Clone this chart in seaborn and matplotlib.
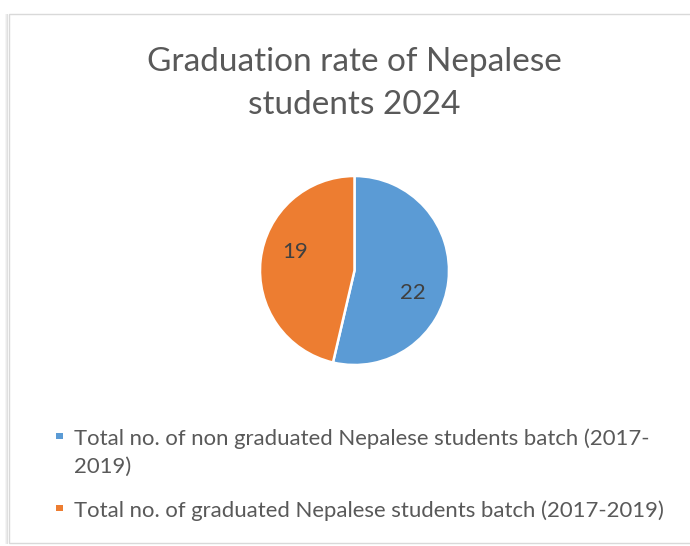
import matplotlib
matplotlib.use("Agg")
import matplotlib.pyplot as plt
import seaborn as sns
import numpy as np
from matplotlib.patches import Rectangle

title = "Graduation rate of Nepalese\nstudents 2024"
categories = ["Total no. of non graduated Nepalese students batch (2017-\n2019)",
              "Total no. of graduated Nepalese students batch (2017-2019)"]
values = [22, 19]
colors = ["#5B9BD5", "#ED7D31"]

sns.set_theme(style="white")
plt.rcParams['font.family'] = ['Lato', 'DejaVu Sans']
txt = "#595959"

W, H = 690, 546
fig = plt.figure(figsize=(W/100, H/100), dpi=100)
fig.patch.set_facecolor("white")

def fx(x): return x / W
def fy(y): return 1 - y / H

# chart border + left shadow
for i, a in enumerate([0.08, 0.16, 0.26]):
    fig.patches.append(Rectangle((fx(5 + i), fy(544)), fx(1), 530/H, transform=fig.transFigure,
                                 facecolor="#888888", alpha=a, edgecolor="none", zorder=-10))
fig.patches.append(Rectangle((fx(8.5), fy(543)), fx(700), 529/H, transform=fig.transFigure,
                             facecolor="white", edgecolor="#D9D9D9", lw=1, zorder=-9))

cx, cy, r = 354.5, 270.5, 94.5
ax = fig.add_axes([fx(cx - r), fy(cy + r), 2*r/W, 2*r/H])
ax.set_zorder(2)
wedges, texts = ax.pie(values, colors=colors, startangle=90, counterclock=False,
                       labels=[str(v) for v in values], labeldistance=0.66,
                       wedgeprops=dict(edgecolor="white", linewidth=1.8),
                       textprops=dict(color="#404040", fontsize=16,
                                      ha="center", va="center"))
# Excel-like label placement (rotated slightly from mid-angle)
label_angles = [-21, 163]
for t, ang in zip(texts, label_angles):
    a = np.deg2rad(ang)
    t.set_position((0.66 * np.cos(a), 0.66 * np.sin(a)))
    t.set_ha("center"); t.set_va("center")
ax.set_xlim(-1.0, 1.0)
ax.set_ylim(-1.0, 1.0)
ax.set_aspect("equal")
ax.axis("off")

fig.text(fx(354), fy(71), title.split("\n")[0], ha="center", va="baseline",
         fontsize=24, color=txt)
fig.text(fx(354), fy(114), title.split("\n")[1], ha="center", va="baseline",
         fontsize=24, color=txt)

leg_y = [445, 517]
for lab, col, y in zip(categories, colors, leg_y):
    fig.patches.append(Rectangle((fx(56.5), fy(y - 6)), fx(6.5), 6.5/H, transform=fig.transFigure,
                                 facecolor=col, edgecolor="none"))
    lines = lab.split("\n")
    for k, line in enumerate(lines):
        fig.text(fx(74), fy(y + 28 * k), line, ha="left", va="baseline", fontsize=15.9,
                 color=txt)

fig.savefig("out.png", dpi=100, facecolor="white")
